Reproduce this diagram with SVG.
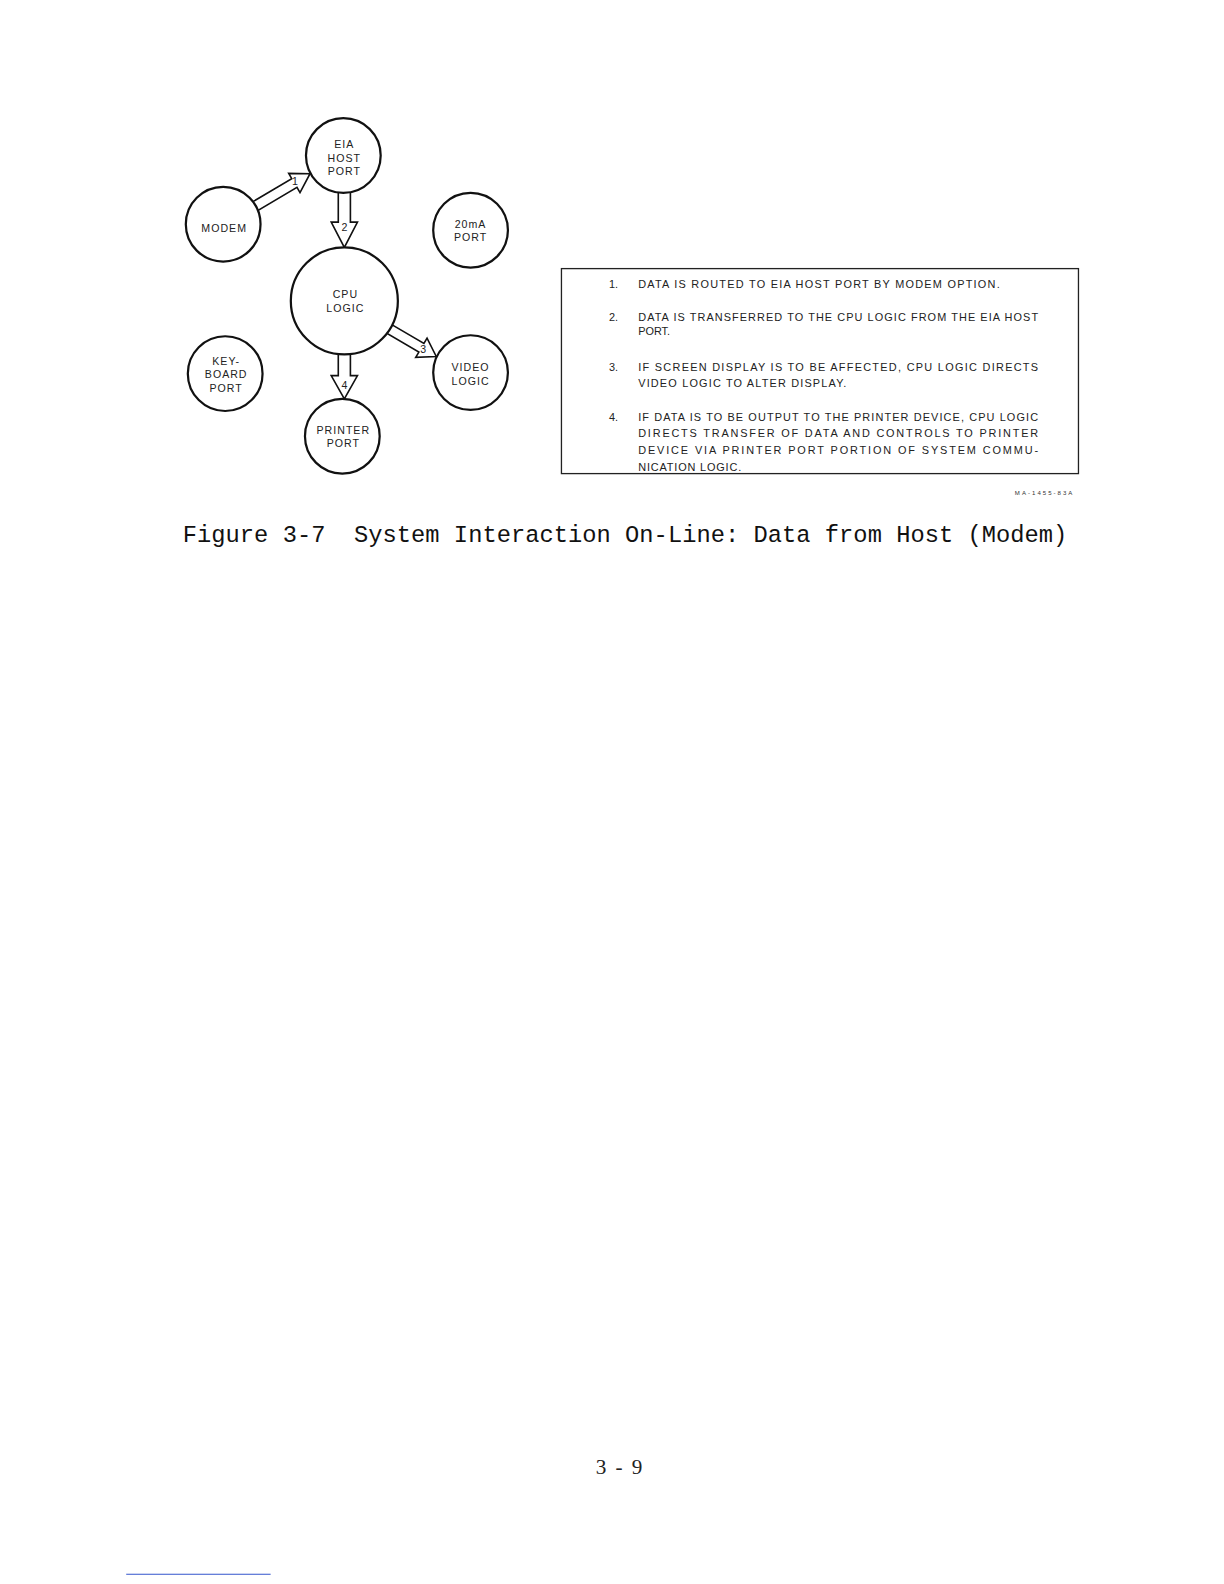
<svg xmlns="http://www.w3.org/2000/svg" width="1224" height="1584" viewBox="0 0 1224 1584">
<style>
.node{fill:#fff;stroke:#111;stroke-width:2.2}
.arrow{fill:#fff;stroke:#111;stroke-width:1.6;stroke-linejoin:miter}
.nt{font-family:"Liberation Sans",Arial,sans-serif;font-size:10.5px;letter-spacing:1px;fill:#222;text-anchor:middle}
.al{font-family:"Liberation Sans",Arial,sans-serif;font-size:10.5px;fill:#222;text-anchor:middle}
.bt{font-family:"Liberation Sans",Arial,sans-serif;font-size:10.8px;fill:#222}
.cap{font-family:"Liberation Mono","Courier New",monospace;font-size:23.5px;fill:#111}
</style>
<rect width="1224" height="1584" fill="#fff"/>
<g transform="scale(1.0098)">
<g id="connectors">
<polygon class="arrow" points="247.1,201.7 288.9,176.9 285.9,171.7 307,172 297.1,190.7 294.1,185.5 252.2,210.3"/>
<polygon class="arrow" points="335,185 335,220 328,220 341,245 354,220 347,220 347,185"/>
<polygon class="arrow" points="385.0,319.7 419.8,340.1 422.9,334.9 432,353 411.7,353.9 414.8,348.7 380.0,328.3"/>
<polygon class="arrow" points="335,345 335,372 328,372 341,395 354,372 347,372 347,345"/>
</g>
<g id="node-modem"><circle class="node" cx="221" cy="222" r="37"/><text class="nt" x="222" y="230">MODEM</text></g>
<g id="node-eia"><circle class="node" cx="340" cy="154" r="37"/><text class="nt" x="341" y="147">EIA</text><text class="nt" x="341" y="160">HOST</text><text class="nt" x="341" y="173">PORT</text></g>
<g id="node-20ma"><circle class="node" cx="466" cy="228" r="37"/><text class="nt" x="466" y="226">20mA</text><text class="nt" x="466" y="239">PORT</text></g>
<g id="node-cpu"><circle class="node" cx="341" cy="298" r="53"/><text class="nt" x="342" y="295">CPU</text><text class="nt" x="342" y="309">LOGIC</text></g>
<g id="node-keyboard"><circle class="node" cx="223" cy="370" r="37"/><text class="nt" x="224" y="361">KEY-</text><text class="nt" x="224" y="374">BOARD</text><text class="nt" x="224" y="388">PORT</text></g>
<g id="node-video"><circle class="node" cx="466" cy="369" r="37"/><text class="nt" x="466" y="367">VIDEO</text><text class="nt" x="466" y="381">LOGIC</text></g>
<g id="node-printer"><circle class="node" cx="339" cy="432" r="37"/><text class="nt" x="340" y="430">PRINTER</text><text class="nt" x="340" y="443">PORT</text></g>
<g id="arrow-labels">
<text class="al" x="292" y="183">1</text>
<text class="al" x="341" y="229">2</text>
<text class="al" x="419" y="350">3</text>
<text class="al" x="341" y="385">4</text>
</g>
<g id="legend">
<rect x="556" y="266" width="512" height="203" fill="none" stroke="#222" stroke-width="1.3"/>
<text class="bt" x="603" y="285">1.</text>
<text class="bt" x="632" y="285" textLength="358" lengthAdjust="spacing">DATA IS ROUTED TO EIA HOST PORT BY MODEM OPTION.</text>
<text class="bt" x="603" y="318">2.</text>
<text class="bt" x="632" y="318" textLength="396" lengthAdjust="spacing">DATA IS TRANSFERRED TO THE CPU LOGIC FROM THE EIA HOST</text>
<text class="bt" x="632" y="332">PORT.</text>
<text class="bt" x="603" y="367">3.</text>
<text class="bt" x="632" y="367" textLength="396" lengthAdjust="spacing">IF SCREEN DISPLAY IS TO BE AFFECTED, CPU LOGIC DIRECTS</text>
<text class="bt" x="632" y="383" textLength="206" lengthAdjust="spacing">VIDEO LOGIC TO ALTER DISPLAY.</text>
<text class="bt" x="603" y="417">4.</text>
<text class="bt" x="632" y="417" textLength="396" lengthAdjust="spacing">IF DATA IS TO BE OUTPUT TO THE PRINTER DEVICE, CPU LOGIC</text>
<text class="bt" x="632" y="433" textLength="396" lengthAdjust="spacing">DIRECTS TRANSFER OF DATA AND CONTROLS TO PRINTER</text>
<text class="bt" x="632" y="450" textLength="396" lengthAdjust="spacing">DEVICE VIA PRINTER PORT PORTION OF SYSTEM COMMU-</text>
<text class="bt" x="632" y="466" textLength="102" lengthAdjust="spacing">NICATION LOGIC.</text>
</g>
<text x="1005" y="490" font-family="Liberation Sans,Arial,sans-serif" font-size="6px" fill="#333" textLength="57" lengthAdjust="spacing">MA-1455-83A</text>
<text class="cap" x="181" y="537" xml:space="preserve" textLength="876" lengthAdjust="spacing">Figure 3-7  System Interaction On-Line: Data from Host (Modem)</text>
<text x="590" y="1460" font-family="Liberation Serif,'Times New Roman',serif" font-size="21px" fill="#222" textLength="46" lengthAdjust="spacing">3-9</text>
<line x1="125" y1="1559" x2="268" y2="1559" stroke="#3355cc" stroke-width="1"/>
</g>
</svg>
